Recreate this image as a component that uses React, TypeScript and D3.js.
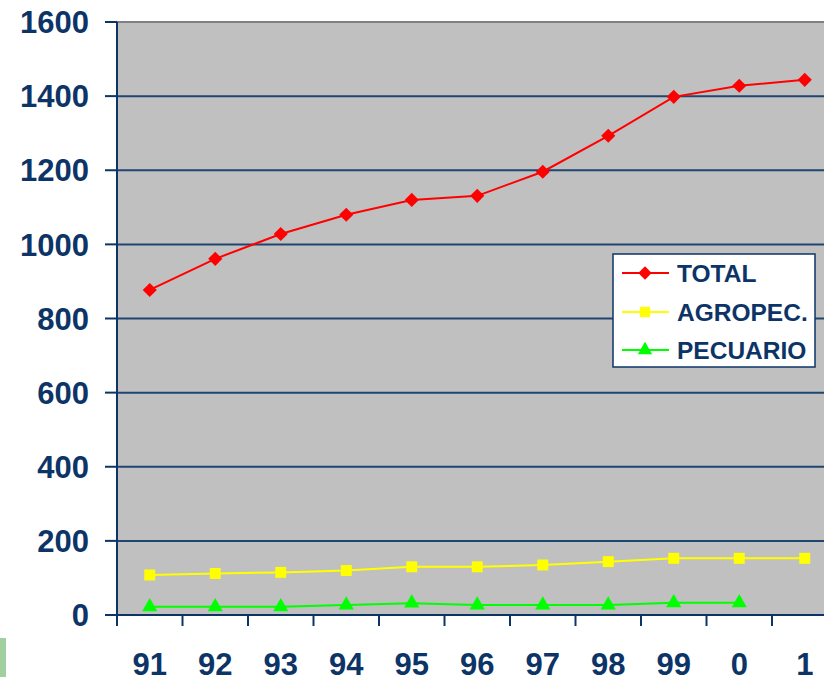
import React, { useEffect, useRef } from "react";
import * as d3 from "d3";

const categories = ["91", "92", "93", "94", "95", "96", "97", "98", "99", "0", "1"];
const totalValues = [877, 961, 1028, 1080, 1120, 1131, 1196, 1293, 1398, 1428, 1444];
const agropecValues = [108, 112, 115, 120, 130, 130, 135, 144, 153, 153, 153];
const pecuarioValues: (number | null)[] = [22, 22, 22, 27, 32, 27, 27, 27, 33, 33, null];
const yTicks = [0, 200, 400, 600, 800, 1000, 1200, 1400, 1600];
const seriesNames = ["TOTAL", "AGROPEC.", "PECUARIO"];

const W = 824;
const H = 677;
const NAVY = "#0d3466";

export default function App() {
  const ref = useRef<SVGSVGElement>(null);
  useEffect(() => {
    const svg = d3.select(ref.current);
    svg.selectAll("*").remove();
    const left = 117, top = 22, bottom = 615;
    const bandW = 65.5;
    const x = d3.scaleBand<string>().domain(categories).range([left, left + bandW * categories.length]);
    const y = d3.scaleLinear().domain([0, 1600]).range([bottom, top]);
    const font = "'Liberation Sans', Arial, sans-serif";

    // decoration
    svg.append("rect").attr("x", 0).attr("y", 638).attr("width", 6).attr("height", 39).attr("fill", "#a0d0a0");

    // plot background
    svg.append("rect").attr("x", left).attr("y", top).attr("width", x.range()[1] - left).attr("height", bottom - top).attr("fill", "#c0c0c0");

    // gridlines
    yTicks.forEach((t) => {
      if (t === 0) return;
      svg.append("line").attr("x1", left).attr("x2", W).attr("y1", y(t)).attr("y2", y(t))
        .attr("stroke", t === 1600 ? "#808080" : "#1f4670").attr("stroke-width", 2);
    });

    // y axis
    svg.append("line").attr("x1", left).attr("x2", left).attr("y1", top).attr("y2", bottom + 1).attr("stroke", NAVY).attr("stroke-width", 2);
    yTicks.forEach((t) => {
      svg.append("line").attr("x1", 105).attr("x2", left).attr("y1", y(t)).attr("y2", y(t)).attr("stroke", NAVY).attr("stroke-width", 2);
      svg.append("text").attr("x", 89).attr("y", y(t)).attr("dy", "0.36em").attr("text-anchor", "end")
        .attr("font-family", font).attr("font-weight", "bold").attr("font-size", 31).attr("fill", NAVY).text(String(t));
    });

    // x axis
    svg.append("line").attr("x1", left - 1).attr("x2", W).attr("y1", bottom).attr("y2", bottom).attr("stroke", NAVY).attr("stroke-width", 2);
    categories.forEach((c) => {
      const xs = x(c)!;
      svg.append("line").attr("x1", xs).attr("x2", xs).attr("y1", bottom).attr("y2", 626).attr("stroke", NAVY).attr("stroke-width", 2);
      svg.append("text").attr("x", xs + x.bandwidth() / 2).attr("y", 675).attr("text-anchor", "middle")
        .attr("font-family", font).attr("font-weight", "bold").attr("font-size", 31).attr("fill", NAVY).text(c);
    });

    const cx = (c: string) => x(c)! + x.bandwidth() / 2;

    const series = [
      { name: seriesNames[0], values: totalValues as (number | null)[], color: "#ff0000", symbol: d3.symbolSquare, size: 100, rot: 45 },
      { name: seriesNames[1], values: agropecValues as (number | null)[], color: "#ffff00", symbol: d3.symbolSquare, size: 120, rot: 0 },
      { name: seriesNames[2], values: pecuarioValues, color: "#00ff00", symbol: d3.symbolTriangle, size: 100, rot: 0 },
    ];

    series.forEach((s) => {
      const pts = categories.map((c, i) => ({ c, v: s.values[i] })).filter((p) => p.v != null) as { c: string; v: number }[];
      const line = d3.line<{ c: string; v: number }>().x((p) => cx(p.c)).y((p) => y(p.v));
      svg.append("path").attr("d", line(pts)!).attr("fill", "none").attr("stroke", s.color).attr("stroke-width", 2);
      pts.forEach((p) => {
        svg.append("path").attr("d", d3.symbol().type(s.symbol).size(s.size)()!)
          .attr("transform", `translate(${cx(p.c)},${y(p.v)}) rotate(${s.rot})`).attr("fill", s.color);
      });
    });

    // legend
    const lg = svg.append("g");
    lg.append("rect").attr("x", 613).attr("y", 254).attr("width", 202).attr("height", 113).attr("fill", "#ffffff").attr("stroke", NAVY).attr("stroke-width", 1.5);
    const rowsY = [273, 312, 350];
    series.forEach((s, i) => {
      lg.append("line").attr("x1", 622).attr("x2", 669).attr("y1", rowsY[i]).attr("y2", rowsY[i]).attr("stroke", s.color).attr("stroke-width", 2);
      lg.append("path").attr("d", d3.symbol().type(s.symbol).size(s.size * 0.9)()!)
        .attr("transform", `translate(645,${rowsY[i]}) rotate(${s.rot})`).attr("fill", s.color);
      lg.append("text").attr("x", 677).attr("y", rowsY[i]).attr("dy", "0.36em")
        .attr("font-family", font).attr("font-weight", "bold").attr("font-size", 24.5).attr("fill", NAVY).text(s.name);
    });
  }, []);
  return (
    <svg ref={ref} width={W} height={H} style={{ position: "absolute", left: 0, top: 0, background: "#ffffff" }} />
  );
}
